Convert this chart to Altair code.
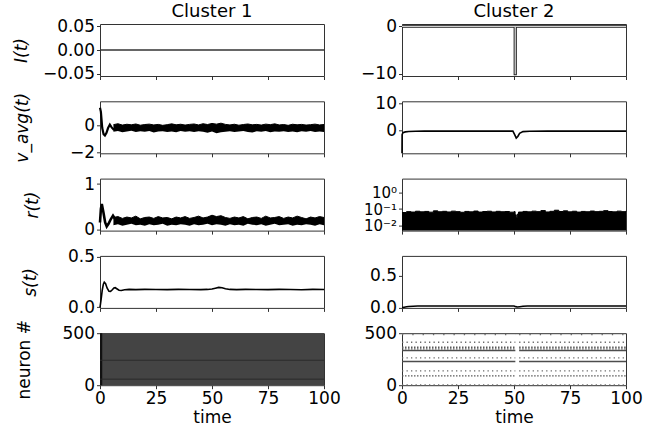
import altair as alt
import pandas as pd

FONT = "DejaVu Sans"
W, H = 224, 52
XTICKS = [0, 25, 50, 75, 100]

# ---------------- data ----------------
# Cluster 1, I(t): constant zero
i1_t = [0, 100]
i1_v = [0, 0]
# Cluster 2, I(t): zero with a -10 pulse near t = 50
i2_t = [0, 50.5, 50.5, 50.6, 50.6, 100]
i2_v = [0, 0, -10, -10, 0, 0]

# shared time grid of the noisy bands (cluster 1)
band_t = [6, 8, 10, 12, 14, 16, 18, 20, 22, 24, 26, 28, 30, 32, 34, 36,
          38, 40, 42, 44, 46, 48, 50, 52, 54, 56, 58, 60, 62, 64, 66, 68,
          70, 72, 74, 76, 78, 80, 82, 84, 86, 88, 90, 92, 94, 96, 98, 100]

# Cluster 1, v_avg(t)
v1_tr_t = [0, 0.4, 1.0, 1.6, 2.2, 2.9, 3.6, 4.4, 5.2, 6.0, 7.0]
v1_tr_v = [1.3, 1.0, -0.2, -0.65, -0.75, -0.55, -0.2, 0.05, -0.15, -0.3, -0.2]
v1_hi = [0.05, 0.12, 0.02, 0.08, 0.04, 0.10, 0.01, 0.06,
         0.09, 0.03, 0.07, 0.00, 0.05, 0.11, 0.04, 0.08,
         0.02, 0.07, 0.10, 0.03, 0.12, 0.06, 0.14, 0.09,
         0.16, 0.07, 0.03, 0.08, 0.01, 0.06, 0.10, 0.04,
         0.07, 0.02, 0.09, 0.05, 0.11, 0.03, 0.06, 0.00,
         0.08, 0.04, 0.07, 0.02, 0.05, 0.09, 0.03, 0.06]
v1_lo = [-0.48, -0.42, -0.52, -0.45, -0.40, -0.50, -0.44, -0.47,
         -0.41, -0.53, -0.46, -0.43, -0.49, -0.45, -0.51, -0.42,
         -0.47, -0.44, -0.50, -0.43, -0.48, -0.55, -0.46, -0.58,
         -0.52, -0.47, -0.44, -0.50, -0.45, -0.41, -0.49, -0.53,
         -0.44, -0.47, -0.42, -0.51, -0.46, -0.48, -0.43, -0.50,
         -0.45, -0.52, -0.44, -0.47, -0.41, -0.49, -0.46, -0.50]

# Cluster 2, v_avg(t)
v2_t = [0, 0.05, 0.4, 1.5, 3, 6, 10, 20, 30, 40, 49.5, 50.3, 51.0, 51.7,
        52.5, 54, 57, 65, 80, 100]
v2_v = [-8.5, -1.6, -0.9, -0.6, -0.45, -0.35, -0.3, -0.3, -0.3, -0.3, -0.3,
        -1.6, -2.9, -2.3, -1.1, -0.5, -0.35, -0.3, -0.3, -0.3]

# Cluster 1, r(t)
r1_tr_t = [0, 0.4, 0.8, 1.5, 2.3, 3.0, 3.8, 4.8, 5.8, 6.8, 7.5]
r1_tr_v = [0.15, 0.45, 0.56, 0.38, 0.15, 0.06, 0.12, 0.22, 0.30, 0.22, 0.19]
r1_hi = [0.26, 0.28, 0.24, 0.27, 0.25, 0.29, 0.23, 0.26,
         0.27, 0.24, 0.28, 0.25, 0.26, 0.23, 0.27, 0.25,
         0.28, 0.24, 0.26, 0.29, 0.25, 0.27, 0.31, 0.28,
         0.30, 0.26, 0.24, 0.27, 0.25, 0.28, 0.23, 0.26,
         0.27, 0.24, 0.29, 0.25, 0.26, 0.28, 0.24, 0.27,
         0.25, 0.29, 0.26, 0.23, 0.27, 0.25, 0.28, 0.26]
r1_lo = [0.09, 0.11, 0.08, 0.10, 0.12, 0.09, 0.10, 0.08,
         0.11, 0.09, 0.10, 0.12, 0.08, 0.10, 0.09, 0.11,
         0.10, 0.08, 0.11, 0.09, 0.10, 0.12, 0.09, 0.11,
         0.10, 0.08, 0.11, 0.09, 0.10, 0.08, 0.12, 0.10,
         0.09, 0.11, 0.08, 0.10, 0.12, 0.09, 0.10, 0.11,
         0.08, 0.10, 0.09, 0.11, 0.10, 0.08, 0.11, 0.09]

# Cluster 2, r(t) on a log axis: upper envelope of the spiky fill
r2_t = [0, 2, 4, 6, 8, 10, 12, 14, 16, 18, 20, 22, 24, 26, 28, 30, 32, 34,
        36, 38, 40, 42, 44, 46, 48, 50, 50.5, 51, 51.5, 52, 54, 56, 58, 60,
        62, 64, 66, 68, 70, 72, 74, 76, 78, 80, 82, 84, 86, 88, 90, 92, 94,
        96, 98, 100]
r2_hi = [0.062, 0.070, 0.066, 0.074, 0.068, 0.072, 0.065, 0.078, 0.069,
         0.073, 0.067, 0.075, 0.070, 0.064, 0.072, 0.068, 0.076, 0.066,
         0.071, 0.074, 0.067, 0.073, 0.069, 0.071, 0.065, 0.070,
         0.045, 0.032, 0.050,
         0.066, 0.072, 0.068, 0.075, 0.070, 0.081, 0.067, 0.073, 0.085,
         0.071, 0.078, 0.068, 0.074, 0.066, 0.072, 0.069, 0.076, 0.070,
         0.073, 0.080, 0.071, 0.068, 0.075, 0.070, 0.078]
R2_FLOOR = 0.0051

# Cluster 1, s(t)
s1_t = [0, 0.5, 1.0, 1.5, 1.9, 2.5, 3.2, 4.0, 4.7, 5.5, 6.2, 6.8, 7.5, 8.5,
        9.5, 11, 13, 16, 20, 25, 30, 35, 40, 45, 48, 50, 51.5, 53, 54.5, 56,
        58, 61, 65, 70, 75, 80, 85, 90, 95, 100]
s1_v = [0, 0.08, 0.17, 0.23, 0.25, 0.235, 0.19, 0.16, 0.158, 0.175, 0.192,
        0.195, 0.185, 0.17, 0.168, 0.175, 0.178, 0.176, 0.178, 0.177, 0.176,
        0.178, 0.177, 0.176, 0.178, 0.182, 0.19, 0.198, 0.195, 0.185, 0.178,
        0.176, 0.178, 0.177, 0.176, 0.178, 0.177, 0.175, 0.178, 0.177]

# Cluster 2, s(t)
s2_t = [0, 1, 2, 3, 5, 7, 10, 20, 30, 40, 48, 50, 50.8, 51.5, 52.5, 54, 56,
        60, 70, 80, 90, 100]
s2_v = [0, 0.006, 0.012, 0.017, 0.022, 0.025, 0.026, 0.026, 0.026, 0.026,
        0.026, 0.025, 0.015, 0.010, 0.014, 0.020, 0.024, 0.026, 0.026, 0.026,
        0.026, 0.026]

# Cluster 1 raster: dense spiking block, initial synchronous burst, denser rows
rast1_block = {"t0": [0], "t1": [100], "n0": [0], "n1": [500]}
rast1_burst = {"t0": [0], "t1": [1.0], "n0": [0], "n1": [500]}
rast1_rows = [240, 58]

# Cluster 2 raster: periodically firing neurons (rows), silent around t = 51
rast2_seg_t0 = [0, 52.3]
rast2_seg_t1 = [50.6, 100]
rast2_solid = [333, 228]
rast2_dense = [365, 349, 90]
rast2_dotted = [413, 262, 138, 3]
rast2_sparse = [487]


# ---------------- helpers ----------------
def xenc(bottom, field="t"):
    return alt.X(f"{field}:Q",
                 scale=alt.Scale(domain=[0, 100], nice=False, zero=False),
                 axis=alt.Axis(values=XTICKS, labels=bottom,
                               title="time" if bottom else None,
                               labelFlush=False, labelOverlap=False,
                               titlePadding=3))


def yenc(field, domain, values, fmt=None, title=None, tx=None, italic=True,
         log=False, label_expr=None, label_size=None):
    sc = alt.Scale(domain=domain, nice=False, zero=False, type="log") if log \
        else alt.Scale(domain=domain, nice=False, zero=False)
    ax = dict(values=values, labelOverlap=False, labelFlush=False)
    if fmt:
        ax["format"] = fmt
    if label_expr:
        ax["labelExpr"] = label_expr
    if label_size:
        ax["labelFontSize"] = label_size
    if title:
        ax["title"] = title
        ax["titleX"] = tx
        ax["titleBaseline"] = "middle"
        ax["titleFontStyle"] = "italic" if italic else "normal"
    else:
        ax["title"] = None
    return alt.Y(f"{field}:Q", scale=sc, axis=alt.Axis(**ax))


def df(**cols):
    return pd.DataFrame(cols)


def line(data, y, bottom=False, color="black", sw=1.5):
    return alt.Chart(data).mark_line(color=color, strokeWidth=sw).encode(
        x=xenc(bottom), y=y)


def band(data, y):
    return alt.Chart(data).mark_area(
        color="black", opacity=1, fillOpacity=1,
        line={"color": "black", "strokeWidth": 1}).encode(
        x=xenc(False), y=y, y2=alt.Y2("lo:Q"))


def ptitle(text):
    return alt.TitleParams(text, font=FONT, fontSize=18, fontWeight="normal",
                           offset=-4, color="black")


# ---------------- row 1: I(t) ----------------
y_i1 = yenc("v", [-0.055, 0.055], [-0.05, 0, 0.05], fmt=".2f",
            title="I(t)", tx=-79)
p1L = line(df(t=i1_t, v=i1_v), y_i1, color="#333", sw=1.5).properties(
    width=W, height=H, title=ptitle("Cluster 1"))

y_i2 = yenc("v", [-10.5, 0.5], [-10, 0], fmt="d")
d_i2 = df(t=i2_t, v=i2_v)
p1R = alt.layer(
    line(d_i2, y_i2, color="#222", sw=3.0),
    line(d_i2, y_i2, color="#d0d0d0", sw=1.1),
).properties(width=W, height=H, title=ptitle("Cluster 2"))

# ---------------- row 2: v_avg(t) ----------------
V1_DOM = [-2.07, 1.78]
p2L = alt.layer(
    band(df(t=band_t, hi=v1_hi, lo=v1_lo),
         yenc("hi", V1_DOM, [-2, 0], fmt="d", title="v_avg(t)", tx=-78)),
    line(df(t=v1_tr_t, hi=v1_tr_v),
         yenc("hi", V1_DOM, [-2, 0], fmt="d", title="v_avg(t)", tx=-78),
         sw=2.2),
).properties(width=W, height=H)

y_v2 = yenc("v", [-8.5, 10.7], [0, 10], fmt="d")
p2R = line(df(t=v2_t, v=v2_v), y_v2, sw=1.6).properties(width=W, height=H)

# ---------------- row 3: r(t) ----------------
R1_DOM = [-0.03, 1.12]
p3L = alt.layer(
    band(df(t=band_t, hi=r1_hi, lo=r1_lo),
         yenc("hi", R1_DOM, [0, 1], fmt="d", title="r(t)", tx=-68)),
    line(df(t=r1_tr_t, hi=r1_tr_v),
         yenc("hi", R1_DOM, [0, 1], fmt="d", title="r(t)", tx=-68), sw=2.6),
).properties(width=W, height=H)

LOG_LABELS = ("datum.value > 0.5 ? '10⁰' : (datum.value > 0.05 ? '10⁻¹' "
              ": '10⁻²')")
p3R = alt.Chart(df(t=r2_t, hi=r2_hi, lo=[R2_FLOOR] * len(r2_t))).mark_area(
    color="black", opacity=1, fillOpacity=1,
    line={"color": "black", "strokeWidth": 1},
    interpolate="step-after").encode(
    x=xenc(False),
    y=yenc("hi", [R2_FLOOR, 6.7], [0.01, 0.1, 1], log=True,
           label_expr=LOG_LABELS, label_size=15),
    y2=alt.Y2("lo:Q"),
).properties(width=W, height=H)

# ---------------- row 4: s(t) ----------------
y_s1 = yenc("v", [-0.005, 0.51], [0, 0.5], fmt=".1f", title="s(t)", tx=-70)
p4L = line(df(t=s1_t, v=s1_v), y_s1, sw=1.6).properties(width=W, height=H)

y_s2 = yenc("v", [-0.005, 0.817], [0, 0.5], fmt=".1f")
p4R = line(df(t=s2_t, v=s2_v), y_s2, sw=1.6).properties(width=W, height=H)


# ---------------- row 5: raster ----------------
def yraster(title=None):
    return yenc("n0", [0, 500], [0, 500], fmt="d", title=title, tx=-76,
                italic=False)


def xraster():
    return alt.X("t0:Q", scale=alt.Scale(domain=[0, 100], nice=False,
                                         zero=False),
                 axis=alt.Axis(values=XTICKS, title="time", labelFlush=False,
                               labelOverlap=False, titlePadding=3))


def rects(d, color):
    return alt.Chart(pd.DataFrame(d)).mark_rect(color=color).encode(
        x=xraster(), x2="t1:Q", y=yraster("neuron #"), y2="n1:Q")


def rows(neurons, segs0, segs1, color, sw, dash=None, title=None):
    recs = [{"n0": n, "t0": a, "t1": b} for n in neurons
            for a, b in zip(segs0, segs1)]
    kw = dict(color=color, strokeWidth=sw)
    if dash:
        kw["strokeDash"] = dash
    return alt.Chart(pd.DataFrame(recs)).mark_rule(**kw).encode(
        x=xraster(), x2="t1:Q", y=yraster(title))


p5L = alt.layer(
    rects(rast1_block, "#444444"),
    rects(rast1_burst, "#111111"),
    rows(rast1_rows, [0], [100], "#2a2a2a", 1.0, title="neuron #"),
).properties(width=W, height=H)

p5R = alt.layer(
    rows(rast2_solid, rast2_seg_t0, rast2_seg_t1, "#4d4d4d", 1.6),
    rows(rast2_dense, rast2_seg_t0, rast2_seg_t1, "#5a5a5a", 1.4, [1.5, 1.5]),
    rows(rast2_dotted, rast2_seg_t0, rast2_seg_t1, "#6a6a6a", 1.3, [1.3, 3.2]),
    rows(rast2_sparse, rast2_seg_t0, rast2_seg_t1, "#6a6a6a", 1.3, [1.3, 9]),
).properties(width=W, height=H)

chart = alt.concat(
    p1L, p1R, p2L, p2R, p3L, p3R, p4L, p4R, p5L, p5R,
    columns=2,
    spacing={"row": 25.3, "column": 78},
    bounds="flush",
).properties(
    padding={"left": 11, "top": 2, "right": 5, "bottom": 5},
    background="white",
).configure_view(
    stroke="#333333", strokeWidth=1
).configure_axis(
    labelFont=FONT, labelFontSize=17, labelColor="black",
    titleFont=FONT, titleFontSize=17, titleFontWeight="normal",
    titleColor="black", tickColor="#333333", tickSize=3.5, tickWidth=1,
    domain=False, grid=False, labelPadding=2,
).configure_title(font=FONT, color="black")

chart.save("out.html", embed_options={"renderer": "svg", "actions": False})
